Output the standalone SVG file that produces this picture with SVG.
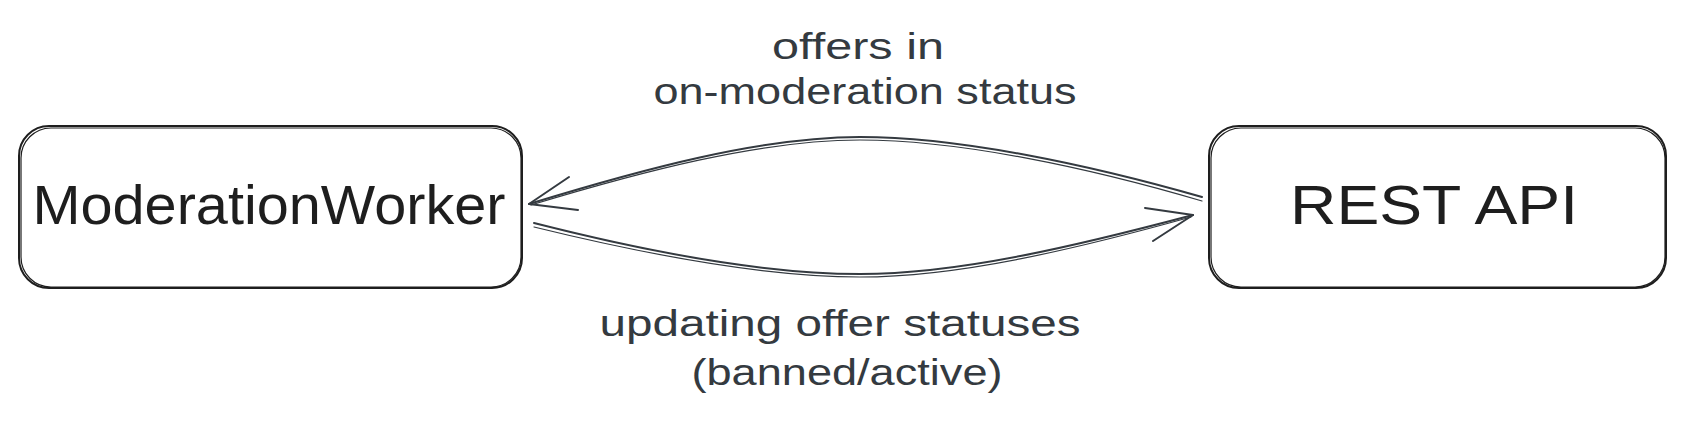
<svg xmlns="http://www.w3.org/2000/svg" width="1686" height="422" viewBox="0 0 1686 422">
<style>
.box{fill:#ffffff;stroke:#1e1e1e;stroke-width:2;}
.box2{fill:none;stroke:#1e1e1e;stroke-width:1.2;}
.ntext{font-family:"Liberation Sans",Arial,sans-serif;font-size:56px;fill:#1e1e1e;text-anchor:middle;}
.ltext{font-family:"Liberation Sans",Arial,sans-serif;font-size:36px;fill:#343a40;text-anchor:middle;}
.edge{fill:none;stroke:#343a40;stroke-width:2;stroke-linecap:round;stroke-linejoin:round;}
.edge2{fill:none;stroke:#343a40;stroke-width:1.2;stroke-linecap:round;}
</style>
<rect width="1686" height="422" fill="#ffffff"/>
<g id="node-moderationworker">
<rect class="box" x="19" y="126" width="503" height="162" rx="30" ry="30"/>
<rect class="box2" x="21" y="128" width="500" height="159" rx="30" ry="30"/>
<text class="ntext" x="269" y="224" textLength="473" lengthAdjust="spacingAndGlyphs">ModerationWorker</text>
</g>
<g id="node-restapi">
<rect class="box" x="1209" y="126" width="457" height="162" rx="30" ry="30"/>
<rect class="box2" x="1211" y="128" width="454" height="159" rx="30" ry="30"/>
<text class="ntext" x="1434" y="224" textLength="288" lengthAdjust="spacingAndGlyphs">REST API</text>
</g>
<g id="connectors">
<path class="edge" d="M1202,197 C1090,165 960,137 860,137 C760,137 640,170 529,204"/>
<path class="edge2" d="M1202,201 C1090,168 960,140 860,140 C760,140 640,172 531,205"/>
<path class="edge" d="M529,204 L569,177 M529,204 L578,210"/>
<path class="edge" d="M534,223 C640,250 760,274 860,274 C960,274 1080,245 1193,215"/>
<path class="edge2" d="M534,227 C640,253 760,277 860,277 C960,277 1080,248 1191,217"/>
<path class="edge" d="M1193,215 L1145,208 M1193,215 L1153,241"/>
</g>
<g id="labels">
<text class="ltext" x="858" y="59" textLength="172" lengthAdjust="spacingAndGlyphs">offers in</text>
<text class="ltext" x="865" y="104" textLength="423" lengthAdjust="spacingAndGlyphs">on-moderation status</text>
<text class="ltext" x="840" y="336" textLength="481" lengthAdjust="spacingAndGlyphs">updating offer statuses</text>
<text class="ltext" x="847" y="385" textLength="311" lengthAdjust="spacingAndGlyphs">(banned/active)</text>
</g>
</svg>
